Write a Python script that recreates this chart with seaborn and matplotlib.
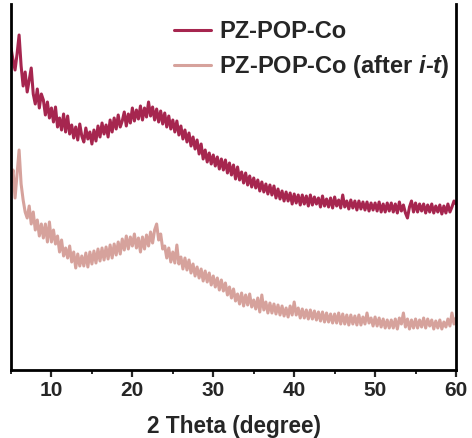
import numpy as np
import pandas as pd
import matplotlib
matplotlib.use("Agg")
import matplotlib.pyplot as plt
import seaborn as sns

# 2 theta grid: 5.00 to 60.00 step 0.25
two_theta_start = 5.0
two_theta_step = 0.25

pz_pop_co = [
    322, 310, 300, 316,
    335, 304, 284, 298,
    278, 290, 302, 276,
    266, 281, 262, 276,
    270, 255, 268, 252,
    262, 248, 263, 243,
    252, 240, 256, 238,
    254, 236, 245, 232,
    243, 230, 246, 234,
    228, 242, 231, 238,
    226, 240, 229, 244,
    233, 247, 236, 245,
    233, 250, 238, 252,
    241, 255, 243, 249,
    258, 244, 256, 247,
    262, 249, 260, 251,
    264, 250, 262, 253,
    268, 254, 263, 250,
    261, 248, 259, 246,
    257, 243, 254, 241,
    250, 238, 249, 235,
    244, 231, 240, 228,
    237, 224, 233, 221,
    230, 216, 226, 211,
    220, 208, 217, 206,
    215, 204, 213, 201,
    211, 200, 210, 197,
    207, 195, 205, 191,
    203, 190, 198, 187,
    197, 185, 194, 183,
    192, 182, 190, 179,
    188, 178, 186, 176,
    185, 175, 184, 172,
    181, 171, 179, 169,
    178, 169, 177, 166,
    176, 167, 175, 165,
    175, 166, 174, 164,
    175, 165, 173, 166,
    172, 163, 174, 164,
    171, 163, 172, 162,
    173, 164, 170, 162,
    175, 163, 169, 161,
    170, 162, 169, 160,
    169, 161, 168, 160,
    168, 159, 167, 160,
    167, 159, 168, 158,
    166, 158, 167, 159,
    167, 158, 166, 157,
    168, 159, 165, 157,
    152, 163, 169, 158,
    167, 158, 166, 159,
    166, 157, 165, 158,
    166, 157, 164, 158,
    165, 156, 164, 157,
    166, 158, 163, 169,
    166,
]

pz_pop_co_after = [
    188, 200, 172, 196,
    220, 186, 170, 158,
    152, 164, 146, 158,
    140, 150, 134, 146,
    132, 146, 128, 148,
    128, 140, 126, 134,
    118, 130, 114, 122,
    112, 124, 108, 118,
    102, 116, 104, 114,
    104, 117, 103, 118,
    106, 119, 107, 121,
    109, 122, 110, 123,
    111, 125, 112, 126,
    115, 128, 116, 131,
    120, 134, 121, 133,
    124, 136, 122, 132,
    118, 133, 121, 135,
    124, 138, 127, 140,
    146, 130, 136, 121,
    124, 112, 122, 108,
    118, 107, 125, 106,
    113, 101, 112, 100,
    110, 97, 106, 94,
    103, 92, 101, 89,
    99, 88, 97, 85,
    94, 83, 92, 80,
    90, 79, 87, 75,
    83, 72, 81, 69,
    76, 66, 77, 64,
    75, 65, 76, 63,
    70, 61, 72, 58,
    75, 60, 68, 57,
    67, 57, 66, 56,
    65, 55, 64, 54,
    62, 53, 64, 55,
    68, 55, 62, 52,
    61, 52, 60, 51,
    60, 51, 59, 50,
    58, 49, 58, 48,
    57, 48, 56, 47,
    56, 47, 57, 46,
    56, 46, 55, 45,
    55, 46, 54, 45,
    55, 45, 53, 46,
    57, 47, 52, 44,
    53, 44, 52, 43,
    51, 42, 50, 42,
    50, 42, 51, 41,
    52, 46, 57, 43,
    51, 41, 50, 42,
    51, 42, 50, 43,
    52, 42, 51, 44,
    50, 41, 49, 42,
    50, 41, 48, 43,
    51, 44, 57, 46,
    52,
]

series_names = ["PZ-POP-Co", "PZ-POP-Co (after $\\bfit{i}$-$\\bfit{t}$)"]
x_ticks = [10, 20, 30, 40, 50, 60]
x_label = "2 Theta (degree)"

two_theta = two_theta_start + two_theta_step * np.arange(len(pz_pop_co))

df = pd.DataFrame({
    "two_theta": np.concatenate([two_theta, two_theta]),
    "intensity": np.concatenate([pz_pop_co, pz_pop_co_after]),
    "sample": [series_names[0]] * len(pz_pop_co) + [series_names[1]] * len(pz_pop_co_after),
})

sns.set_style("ticks")
plt.rcParams["font.family"] = ["Liberation Sans", "DejaVu Sans"]
plt.rcParams["font.weight"] = "bold"
plt.rcParams["mathtext.fontset"] = "custom"
plt.rcParams["mathtext.bfit"] = "Liberation Sans:bold:italic"

fig = plt.figure(figsize=(4.72, 4.38), dpi=100)
ax = fig.add_axes([11 / 472, 68 / 438, 445 / 472, 366 / 438])

palette = {series_names[0]: "#A6264F", series_names[1]: "#D6A29C"}
sns.lineplot(data=df, x="two_theta", y="intensity", hue="sample",
             palette=palette, linewidth=2.2, ax=ax, legend=True)

ax.set_xlim(5, 60)
ax.set_ylim(0, 366)
ax.set_xticks(x_ticks)
ax.set_xticks(np.arange(5, 61, 10), minor=True)
ax.set_yticks([])
ax.set_ylabel("")
ax.set_xlabel(x_label, fontsize=16.3, fontweight="bold", labelpad=11)
for lab in ax.get_xticklabels():
    lab.set_fontweight("bold")
ax.tick_params(axis="x", which="major", direction="out", length=5, width=1.6,
               labelsize=15, pad=3)
ax.tick_params(axis="x", which="minor", direction="out", length=3, width=1.4)
for side in ["left", "right", "bottom"]:
    ax.spines[side].set_linewidth(2)
    ax.spines[side].set_color("black")
ax.spines["top"].set_visible(False)

leg = ax.legend(loc="upper right", bbox_to_anchor=(1 - 6 / 445, 1 - 16 / 366),
                frameon=False, prop={"weight": "bold", "size": 17},
                handlelength=1.57, handletextpad=0.34, labelspacing=0.42,
                borderaxespad=0.0, borderpad=0.0)
for line in leg.get_lines():
    line.set_linewidth(2.2)

fig.savefig("out.png", dpi=100)
